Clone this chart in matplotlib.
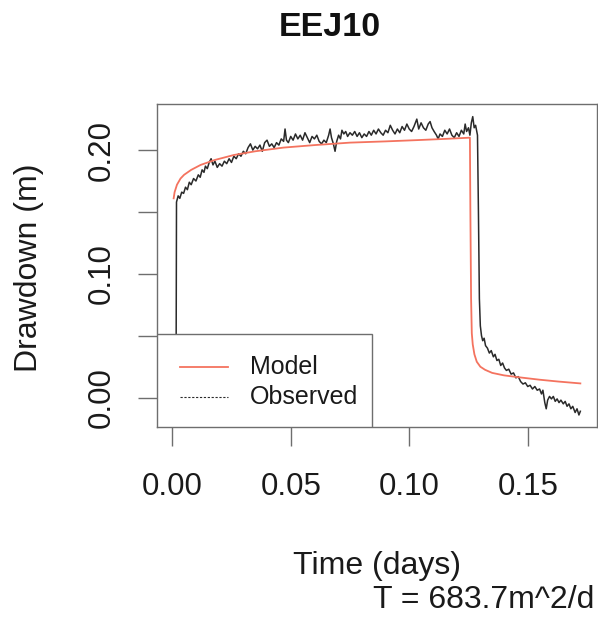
import matplotlib
matplotlib.use("Agg")
import matplotlib.pyplot as plt
from matplotlib.patches import Rectangle

plt.rcParams['font.family'] = ['Liberation Sans', 'DejaVu Sans']

title = "EEJ10"
xlabel = "Time (days)"
ylabel = "Drawdown (m)"
note = "T = 683.7m^2/d"
legend_labels = ["Model", "Observed"]
xticks = [0.00, 0.05, 0.10, 0.15]
xticklabels = ["0.00", "0.05", "0.10", "0.15"]
yticks = [0.00, 0.05, 0.10, 0.15, 0.20]
yticklabels = ["0.00", "", "0.10", "", "0.20"]

obs_t = [0.0000, 0.0016, 0.0018, 0.0025, 0.0032, 0.0040, 0.0048, 0.0056, 0.0064, 0.0072,
         0.0080, 0.0090, 0.0100, 0.0110, 0.0118, 0.0126, 0.0134, 0.0140, 0.0148, 0.0156,
         0.0164, 0.0172, 0.0180, 0.0190, 0.0200, 0.0210, 0.0220, 0.0230, 0.0240, 0.0250,
         0.0260, 0.0270, 0.0280, 0.0290, 0.0300, 0.0310, 0.0320, 0.0330, 0.0340, 0.0350,
         0.0360, 0.0370, 0.0380, 0.0390, 0.0400, 0.0410, 0.0420, 0.0430, 0.0440, 0.0450,
         0.0460, 0.0470, 0.0476, 0.0482, 0.0490, 0.0500, 0.0510, 0.0520, 0.0530, 0.0540,
         0.0550, 0.0560, 0.0570, 0.0580, 0.0590, 0.0600, 0.0610, 0.0620, 0.0630, 0.0640,
         0.0650, 0.0660, 0.0666, 0.0672, 0.0680, 0.0687, 0.0694, 0.0702, 0.0710, 0.0716,
         0.0724, 0.0732, 0.0740, 0.0750, 0.0760, 0.0770, 0.0780, 0.0790, 0.0800, 0.0810,
         0.0820, 0.0830, 0.0840, 0.0850, 0.0860, 0.0870, 0.0880, 0.0890, 0.0900, 0.0910,
         0.0920, 0.0930, 0.0940, 0.0950, 0.0960, 0.0970, 0.0980, 0.0990, 0.1000, 0.1010,
         0.1020, 0.1032, 0.1040, 0.1050, 0.1060, 0.1070, 0.1080, 0.1088, 0.1096, 0.1105,
         0.1115, 0.1122, 0.1130, 0.1140, 0.1150, 0.1160, 0.1170, 0.1180, 0.1190, 0.1200,
         0.1210, 0.1220, 0.1230, 0.1236, 0.1242, 0.1250, 0.1256, 0.1262, 0.1268, 0.1274,
         0.1280, 0.1288, 0.1292, 0.1296, 0.1300, 0.1305, 0.1310, 0.1316, 0.1322, 0.1330,
         0.1338, 0.1346, 0.1355, 0.1362, 0.1370, 0.1378, 0.1386, 0.1394, 0.1402, 0.1410,
         0.1420, 0.1430, 0.1440, 0.1450, 0.1460, 0.1470, 0.1480, 0.1490, 0.1500, 0.1510,
         0.1520, 0.1530, 0.1540, 0.1550, 0.1558, 0.1564, 0.1572, 0.1578, 0.1584, 0.1592,
         0.1600, 0.1608, 0.1616, 0.1624, 0.1632, 0.1640, 0.1650, 0.1658, 0.1666, 0.1674,
         0.1682, 0.1690, 0.1700, 0.1708, 0.1716, 0.1722]
obs_v = [0.000, 0.000, 0.158, 0.163, 0.161, 0.166, 0.165, 0.170, 0.168, 0.174,
         0.172, 0.177, 0.175, 0.180, 0.178, 0.184, 0.182, 0.187, 0.185, 0.190,
         0.193, 0.188, 0.191, 0.186, 0.189, 0.187, 0.191, 0.189, 0.193, 0.190,
         0.195, 0.193, 0.197, 0.195, 0.199, 0.197, 0.202, 0.205, 0.200, 0.203,
         0.201, 0.204, 0.199, 0.206, 0.208, 0.203, 0.205, 0.202, 0.206, 0.204,
         0.209, 0.207, 0.217, 0.208, 0.206, 0.211, 0.208, 0.213, 0.209, 0.212,
         0.208, 0.214, 0.210, 0.206, 0.211, 0.209, 0.212, 0.207, 0.205, 0.208,
         0.206, 0.212, 0.217, 0.210, 0.205, 0.199, 0.207, 0.212, 0.209, 0.216,
         0.213, 0.215, 0.211, 0.214, 0.212, 0.215, 0.211, 0.214, 0.210, 0.213,
         0.211, 0.215, 0.212, 0.216, 0.213, 0.217, 0.214, 0.212, 0.216, 0.214,
         0.220, 0.216, 0.213, 0.217, 0.214, 0.219, 0.216, 0.221, 0.217, 0.215,
         0.219, 0.225, 0.217, 0.222, 0.218, 0.216, 0.221, 0.223, 0.218, 0.215,
         0.212, 0.209, 0.213, 0.211, 0.216, 0.213, 0.217, 0.212, 0.210, 0.214,
         0.211, 0.216, 0.213, 0.221, 0.215, 0.218, 0.212, 0.222, 0.227, 0.218,
         0.220, 0.212, 0.150, 0.080, 0.058, 0.050, 0.046, 0.048, 0.042, 0.040,
         0.036, 0.038, 0.033, 0.035, 0.030, 0.031, 0.026, 0.028, 0.024, 0.022,
         0.023, 0.019, 0.020, 0.016, 0.017, 0.013, 0.011, 0.012, 0.009, 0.010,
         0.007, 0.009, 0.006, 0.007, 0.003, 0.006, -0.004, -0.009, -0.002, 0.001,
         -0.001, 0.001, -0.003, -0.001, -0.004, -0.002, -0.005, -0.003, -0.007, -0.005,
         -0.009, -0.007, -0.012, -0.009, -0.014, -0.011]

model_t = [0.0006, 0.0010, 0.0020, 0.0035, 0.0050, 0.0080, 0.0120, 0.0180, 0.0260, 0.0350,
           0.0470, 0.0600, 0.0750, 0.0900, 0.1030, 0.1150, 0.1256, 0.1258, 0.1261, 0.1264,
           0.1268, 0.1275, 0.1285, 0.1300, 0.1320, 0.1350, 0.1400, 0.1470, 0.1550, 0.1630,
           0.1722]
model_v = [0.161, 0.166, 0.172, 0.177, 0.180, 0.184, 0.188, 0.192, 0.196, 0.199,
           0.202, 0.204, 0.206, 0.207, 0.208, 0.209, 0.210, 0.150, 0.080, 0.052,
           0.043, 0.035, 0.029, 0.025, 0.0225, 0.020, 0.018, 0.0163, 0.0145, 0.013,
           0.0115]

W, H = 598, 618
AX_L, AX_R, AX_T, AX_B = 157.3, 596.7, 104.0, 427.0
fig = plt.figure(figsize=(W / 100, H / 100), dpi=100)
ax = fig.add_axes([AX_L / W, 1 - AX_B / H, (AX_R - AX_L) / W, (AX_B - AX_T) / H])

red = '#F4735F'
axcol = '#6E6E6E'
obscol = '#2A2A2A'
ax.plot(model_t, model_v, color=red, lw=1.3, zorder=3)
ax.plot(obs_t, obs_v, color=obscol, lw=1.1, zorder=2)

ax.set_xlim(-0.0063, 0.1791)
ax.set_ylim(-0.0237, 0.2372)
ax.set_xticks(xticks)
ax.set_xticklabels(xticklabels)
ax.set_yticks(yticks)
ax.set_yticklabels(yticklabels, rotation=90, va='center')
ax.tick_params(axis='both', length=13.5, width=1.0, color=axcol, labelsize=22.5,
               labelcolor='#1a1a1a')
ax.tick_params(axis='x', pad=19)
ax.tick_params(axis='y', pad=16)
for s in ax.spines.values():
    s.set_color(axcol)
    s.set_linewidth(1.0)


# legend drawn in pixel positions converted to axes fractions
def axx(px):
    return (px - AX_L) / (AX_R - AX_L)


def axy(py):
    return (AX_B - py) / (AX_B - AX_T)


ax.add_patch(Rectangle((axx(157.3), axy(427)), axx(372) - axx(157.3), axy(334) - axy(427),
                       transform=ax.transAxes, facecolor='white', edgecolor=axcol,
                       lw=1.0, zorder=5))
ax.plot([axx(180), axx(228)], [axy(367), axy(367)], transform=ax.transAxes,
        color=red, lw=1.3, zorder=6)
ax.plot([axx(180), axx(228)], [axy(397), axy(397)], transform=ax.transAxes,
        color=obscol, lw=0.8, ls=(0, (2, 1.5)), zorder=6)
ax.text(axx(250), axy(367), legend_labels[0], transform=ax.transAxes, fontsize=18,
        va='center', ha='left', color='#1a1a1a', zorder=6)
ax.text(axx(250), axy(397), legend_labels[1], transform=ax.transAxes, fontsize=18,
        va='center', ha='left', color='#1a1a1a', zorder=6)

fig.text(330 / W, 1 - 28 / H, title, ha='center', va='center', fontsize=24.5,
         fontweight='bold', color='#111111')
fig.text(376.7 / W, 1 - 566 / H, xlabel, ha='center', va='center', fontsize=23,
         color='#1a1a1a')
fig.text(594 / W, 1 - 600 / H, note, ha='right', va='center', fontsize=23,
         color='#1a1a1a')
fig.text(29 / W, 1 - 268 / H, ylabel, ha='center', va='center', rotation=90,
         fontsize=23, color='#1a1a1a')

fig.savefig("out.png", dpi=100)
